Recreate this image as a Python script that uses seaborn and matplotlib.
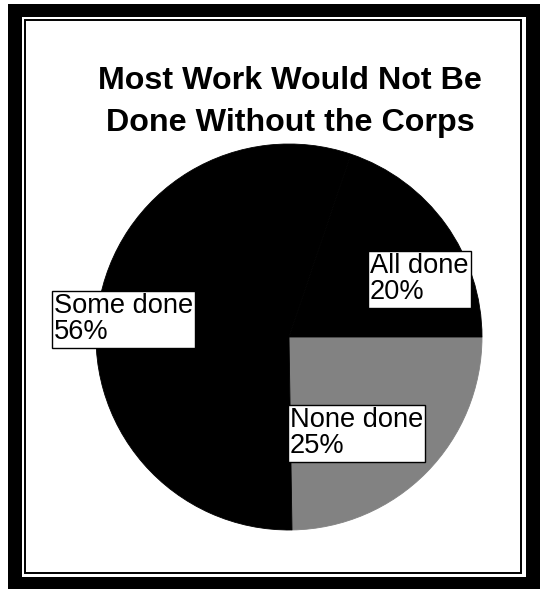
import matplotlib
matplotlib.use("Agg")
import matplotlib.pyplot as plt
from matplotlib.patches import Rectangle
import seaborn as sns

# Survey shares, listed clockwise from 3 o'clock
categories = ["None done", "Some done", "All done"]
shares = [25, 56, 20]
slice_colors = ["#828282", "#000000", "#000000"]

title_lines = ["Most Work Would Not Be", "Done Without the Corps"]

sns.set_theme(style="white")
plt.rcParams["font.family"] = ["Liberation Sans", "DejaVu Sans"]

W, H = 540, 589
fig = plt.figure(figsize=(W / 100, H / 100), dpi=100)
fig.patch.set_facecolor("white")


def fx(px):
    return px / W


def fy(py):
    return 1 - py / H


# Double frame: heavy black border, white gap, thin inner rule
fig.patches.append(Rectangle((fx(8), 0), 1 - fx(8), fy(4), transform=fig.transFigure,
                             facecolor="black", edgecolor="none", zorder=-3))
fig.patches.append(Rectangle((fx(22), fy(577)), fx(526) - fx(22), fy(17) - fy(577),
                             transform=fig.transFigure, facecolor="white",
                             edgecolor="none", zorder=-2))
fig.patches.append(Rectangle((fx(24.5), fy(572.5)), fx(520.5) - fx(24.5), fy(19.5) - fy(572.5),
                             transform=fig.transFigure, facecolor="none",
                             edgecolor="black", linewidth=1.4, zorder=-1))

# Title
for line, base in zip(title_lines, [89, 131]):
    fig.text(fx(290), fy(base), line, ha="center", va="baseline",
             fontsize=23.2, fontweight="bold", color="black")

# Pie
cx, cy, r = 289, 337, 193
ax = fig.add_axes([fx(cx - r), fy(cy + r), 2 * r / W, 2 * r / H])
ax.set_zorder(5)
wedges, _ = ax.pie(shares, colors=slice_colors, startangle=0, counterclock=False,
                   wedgeprops=dict(linewidth=0.6), radius=1.0)
for w in wedges:
    w.set_edgecolor(w.get_facecolor())
ax.set_xlim(-1, 1)
ax.set_ylim(-1, 1)
ax.set_aspect("equal")
ax.axis("off")
ax.patch.set_alpha(0)

# Boxed labels (text top-left corner in pie units)
label_anchor = {
    "All done": (0.42, 0.435),
    "Some done": (-1.218, 0.228),
    "None done": (0.005, -0.363),
}
for name, val in zip(categories, shares):
    x, y = label_anchor[name]
    ax.text(x, y, f"{name}\n{val}%", ha="left", va="top", fontsize=19.6,
            linespacing=1.02, color="black", clip_on=False,
            bbox=dict(boxstyle="square,pad=0.08", facecolor="white",
                      edgecolor="black", linewidth=1.0))

fig.savefig("out.png", dpi=100, facecolor="white")
